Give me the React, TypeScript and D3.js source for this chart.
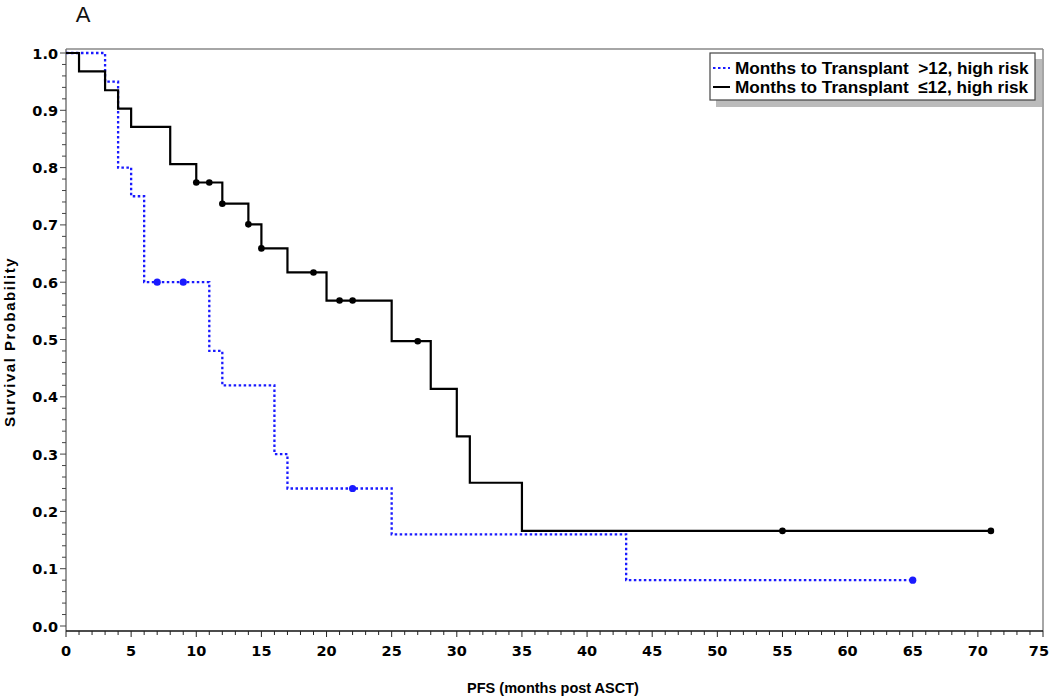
import React from "react";
import * as d3 from "d3";

// Black curve: Months to Transplant ≤12 (step points: time, survival)
const lowTimes = [0, 1, 3, 4, 5, 8, 10, 12, 14, 15, 17, 20, 25, 28, 30, 31, 35, 71];
const lowSurv = [1.0, 0.968, 0.935, 0.903, 0.871, 0.806, 0.774, 0.737, 0.701, 0.659, 0.617, 0.568, 0.497, 0.414, 0.331, 0.25, 0.166, 0.166];
const lowCensorTimes = [10, 11, 12, 14, 15, 19, 21, 22, 27, 55, 71];

// Blue curve: Months to Transplant >12
const highTimes = [0, 3, 4, 5, 6, 11, 12, 16, 17, 25, 43, 65];
const highSurv = [1.0, 0.95, 0.8, 0.75, 0.6, 0.48, 0.42, 0.3, 0.24, 0.16, 0.08, 0.08];
const highCensorTimes = [7, 9, 22, 65];

const xTicks = [0, 5, 10, 15, 20, 25, 30, 35, 40, 45, 50, 55, 60, 65, 70, 75];
const yTicks = [0, 0.1, 0.2, 0.3, 0.4, 0.5, 0.6, 0.7, 0.8, 0.9, 1.0];
const legendLabels = ["Months to Transplant  >12, high risk", "Months to Transplant  \u226412, high risk"];

const W = 1050, H = 696;
const left = 66, right = 1043, top = 49, bottom = 631;

export default function App() {
  const x = d3.scaleLinear().domain([0, 75]).range([left, right]);
  const y = d3.scaleLinear().domain([0, 1]).range([626, 53]);

  const stepLine = d3.line<[number, number]>().x(d => x(d[0])).y(d => y(d[1])).curve(d3.curveStepAfter);
  const lowPts: [number, number][] = lowTimes.map((t, i) => [t, lowSurv[i]]);
  const highPts: [number, number][] = highTimes.map((t, i) => [t, highSurv[i]]);

  const survAt = (times: number[], surv: number[], t: number) => {
    let v = surv[0];
    for (let i = 0; i < times.length; i++) if (times[i] <= t) v = surv[i];
    return v;
  };

  const minorX = d3.range(0, 76, 1);
  const minorY = d3.range(0, 1.0001, 0.02);
  const font = "'Liberation Sans', Arial, sans-serif";
  const tickFont = "'DejaVu Sans', sans-serif";
  const lastTick = xTicks[xTicks.length - 1];

  return (
    <svg width={W} height={H} style={{ position: "absolute", left: 0, top: 0, background: "#fff" }}>
      <rect x={0} y={0} width={W} height={H} fill="#fff" />
      <text x={83} y={22} fontFamily={font} fontSize={22} textAnchor="middle" fill="#111">A</text>
      {/* frame */}
      <line x1={left} y1={top} x2={right} y2={top} stroke="#888" strokeWidth={1.5} />
      <line x1={right} y1={top} x2={right} y2={bottom} stroke="#888" strokeWidth={1.5} />
      <line x1={left} y1={top} x2={left} y2={bottom} stroke="#777" strokeWidth={1.5} />
      <line x1={left} y1={bottom} x2={right} y2={bottom} stroke="#111" strokeWidth={1.5} />
      {/* x ticks */}
      {minorX.map(v => (
        <line key={"mx" + v} x1={x(v)} x2={x(v)} y1={bottom} y2={bottom + (v % 5 === 0 ? 6 : 4)} stroke="#222" strokeWidth={1} />
      ))}
      {xTicks.map(v => (
        <text key={"xt" + v} x={v === lastTick ? W - 1 : x(v)} y={bottom + 25} fontFamily={tickFont} fontWeight="bold" fontSize={14.5} textAnchor={v === lastTick ? "end" : "middle"} fill="#000">{v}</text>
      ))}
      {/* y ticks */}
      {minorY.map((v, i) => (
        <line key={"my" + i} x1={left} x2={left - (i % 5 === 0 ? 6 : 4)} y1={y(v)} y2={y(v)} stroke="#444" strokeWidth={1} />
      ))}
      {yTicks.map(v => (
        <text key={"yt" + v} x={58} y={y(v) + 5.5} fontFamily={tickFont} fontWeight="bold" fontSize={14.5} textAnchor="end" fill="#000">{v.toFixed(1)}</text>
      ))}
      <text x={553} y={693} fontFamily={font} fontWeight="bold" fontSize={14.5} textAnchor="middle" fill="#000">PFS (months post ASCT)</text>
      <text transform={`translate(15,342) rotate(-90)`} fontFamily={font} fontWeight="bold" fontSize={15} letterSpacing={1.5} textAnchor="middle" fill="#000">Survival Probability</text>
      {/* curves */}
      <path d={stepLine(highPts) || ""} fill="none" stroke="#1a1aff" strokeWidth={2.3} strokeDasharray="2.5,2.5" />
      <path d={stepLine(lowPts) || ""} fill="none" stroke="#000" strokeWidth={2.2} />
      {highCensorTimes.map(t => (
        <circle key={"hc" + t} cx={x(t)} cy={y(survAt(highTimes, highSurv, t))} r={3.6} fill="#1a1aff" />
      ))}
      {lowCensorTimes.map(t => (
        <circle key={"lc" + t} cx={x(t)} cy={y(survAt(lowTimes, lowSurv, t))} r={3.3} fill="#000" />
      ))}
      {/* legend */}
      <rect x={716} y={59} width={326} height={48} fill="#bbb" />
      <rect x={710} y={53} width={325} height={47} fill="#fff" stroke="#444" strokeWidth={1.2} />
      <line x1={713} x2={730} y1={68} y2={68} stroke="#1a1aff" strokeWidth={2} strokeDasharray="2.5,2.5" />
      <line x1={713} x2={730} y1={87} y2={87} stroke="#000" strokeWidth={2} />
      {legendLabels.map((l, i) => (
        <text key={l} x={735} y={74 + i * 19} fontFamily={font} fontWeight="bold" fontSize={17.2} fill="#000" style={{ whiteSpace: "pre" }}>{l}</text>
      ))}
    </svg>
  );
}
